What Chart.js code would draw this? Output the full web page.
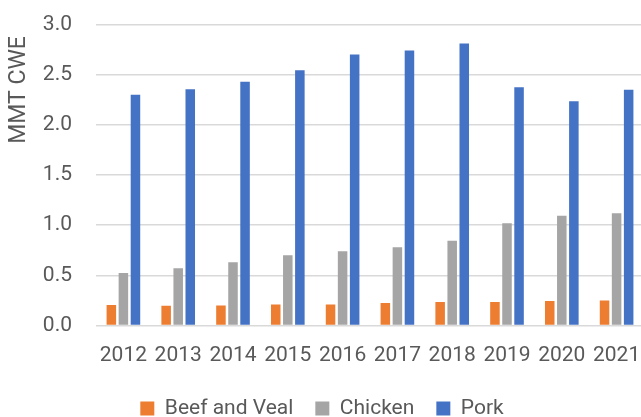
<!DOCTYPE html>
<html>
<head>
<meta charset="utf-8">
<script src="https://cdn.jsdelivr.net/npm/chart.js@4.4.0/dist/chart.umd.min.js"></script>
<style>
  html, body { margin: 0; padding: 0; background: #fff; overflow: hidden; }
  #wrap { position: relative; width: 644px; height: 417px; }
</style>
</head>
<body>
<div id="wrap"><canvas id="ch"></canvas></div>
<script>
const years = ['2012', '2013', '2014', '2015', '2016', '2017', '2018', '2019', '2020', '2021'];
const beef = [0.205, 0.198, 0.20, 0.21, 0.21, 0.225, 0.235, 0.235, 0.245, 0.25];
const chicken = [0.523, 0.57, 0.63, 0.70, 0.74, 0.78, 0.845, 1.02, 1.095, 1.12];
const pork = [2.30, 2.355, 2.43, 2.545, 2.70, 2.74, 2.81, 2.375, 2.235, 2.35];
const yTicks = [0, 0.5, 1.0, 1.5, 2.0, 2.5, 3.0];

const FONT = 'Roboto';
const TXT = '#595959';

// rotated axis title, sits above the plot centre like the original
const yTitle = {
  id: 'yTitle',
  afterDraw(chart) {
    const ctx = chart.ctx;
    ctx.save();
    ctx.translate(19.5, 90);
    ctx.rotate(-Math.PI / 2);
    ctx.font = `23px "${FONT}"`;
    ctx.fillStyle = TXT;
    ctx.textAlign = 'center';
    ctx.textBaseline = 'middle';
    ctx.fillText('MMT CWE', 0, 0);
    ctx.restore();
  }
};

const bar = (label, data, color) => ({
  label, data,
  backgroundColor: color,
  borderWidth: 0,
  categoryPercentage: 0.66,
  barPercentage: 0.79
});

new Chart(document.getElementById('ch'), {
  type: 'bar',
  data: {
    labels: years,
    datasets: [
      bar('Beef and Veal', beef, '#ED7D31'),
      bar('Chicken', chicken, '#A5A5A5'),
      bar('Pork', pork, '#4472C4')
    ]
  },
  options: {
    responsive: true,
    maintainAspectRatio: false,
    animation: false,
    layout: { padding: { top: 24.5, right: 0, left: 0, bottom: -12 } },
    plugins: {
      tooltip: { enabled: false },
      legend: {
        position: 'bottom',
        labels: {
          boxWidth: 14, boxHeight: 14, padding: 22,
          color: TXT,
          font: { family: FONT, size: 21 }
        }
      }
    },
    scales: {
      x: {
        grid: { display: false, drawTicks: false },
        border: { display: false },
        ticks: { color: TXT, padding: 18, maxRotation: 0, font: { family: FONT, size: 21 } },
        afterFit(s) {
          s.height = 50.5;
          s.paddingLeft = 0;
          s.paddingRight = 0;
        }
      },
      y: {
        min: 0, max: 3,
        afterBuildTicks(s) { s.ticks = yTicks.map(v => ({ value: v })); },
        grid: { color: '#D9D9D9', lineWidth: 1.5, drawTicks: false },
        border: { display: false },
        ticks: {
          color: TXT, padding: 24,
          font: { family: FONT, size: 21 },
          callback: v => v.toFixed(1)
        },
        afterFit(s) {
          s.width = 96;
          // tick padding would otherwise push the plot top down
          s.paddingTop = 0;
          s.paddingBottom = 0;
        }
      }
    }
  },
  plugins: [yTitle]
});
</script>
</body>
</html>
